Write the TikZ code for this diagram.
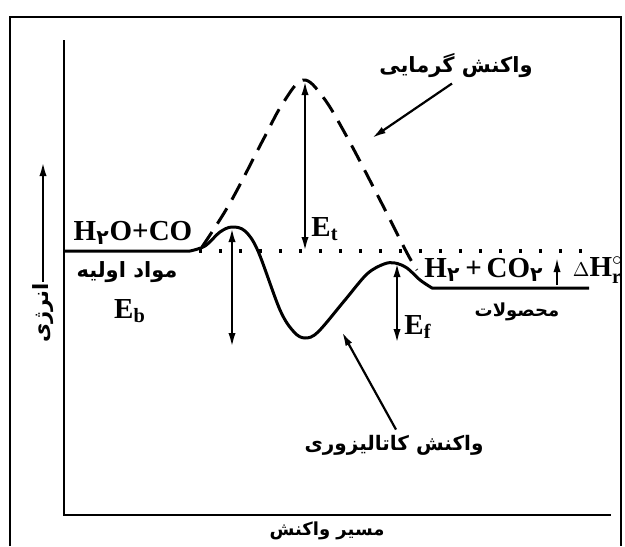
\documentclass[tikz,border=0pt]{standalone}
\usepackage{fontspec}
\usepackage{tikz}
\usetikzlibrary{arrows.meta}
\setmainfont{Liberation Serif}
\newfontfamily\fa[Script=Arabic]{DejaVu Sans}
\TeXXeTstate=1
\newcommand{\fat}[1]{{\fa\bfseries\beginR #1\endR}}
\newcommand{\two}{\textsubscript{\fa ۲}}

\begin{document}
\begin{tikzpicture}[x=0.5pt, y=-0.5pt, >={Latex[length=7pt,width=3.6pt]},
  line width=1.4pt,
  lbl/.style={inner sep=0pt, font=\fontsize{14.5}{16}\selectfont\bfseries},
  falbl/.style={inner sep=0pt, font=\fontsize{10.5}{12}\selectfont},
  curve/.style={line width=1.5pt, line join=round},
  marker/.style={<->, line width=1.1pt}]
  \useasboundingbox (0,0) rectangle (625,546);

  % frame and axes
  \draw (10,546) -- (10,17) -- (621,17) -- (621,546);
  \draw (64,40) -- (64,515) -- (611,515);

  % axis labels
  \node[falbl, rotate=90] (ener) at (43,313) {\fat{انرژی}};
  \coordinate (enerTop) at (43,162);
  \draw[->, line width=1.1pt] (ener.east) -- (enerTop);
  \node[falbl, font=\fontsize{9}{11}\selectfont] (path) at (327,531) {\fat{مسیر واکنش}};

  % reference level
  \draw[line width=1.6pt, dash pattern=on 1.6pt off 8.4pt] (199,251) -- (596,251);

  % uncatalysed path
  \draw[curve, dash pattern=on 9pt off 5pt]
    plot[smooth, tension=0.6] coordinates {(202,247) (230,203) (263,140) (283,103)
      (303,80) (323,97) (347,137) (380,200) (407,253) (417,270)};

  % catalysed path
  \draw[curve] (64,251) -- (190,251)
    plot[smooth, tension=0.55] coordinates {(190,251) (205,246) (220,232) (232,227)
      (245,231) (258,251) (280,310) (294,332) (305,338) (318,332) (345,300)
      (367,274) (384,264) (395,263) (407,268) (420,280) (432,288)}
    -- (589,288);

  % energy markers
  \coordinate (tTop) at (305,81);   \coordinate (tBot) at (305,251);
  \coordinate (bTop) at (232,228);  \coordinate (bBot) at (232,347);
  \coordinate (fTop) at (397,263);  \coordinate (fBot) at (397,343);
  \coordinate (hBot) at (557,285);  \coordinate (hTop) at (557,258);
  \draw[marker] (tTop) -- (tBot);
  \draw[marker] (bTop) -- (bBot);
  \draw[marker] (fTop) -- (fBot);
  \draw[->, line width=1pt] (hBot) -- (hTop);

  \node[lbl] (et) at (325,229) {E\textsubscript{t}};
  \node[lbl] (eb) at (130,311) {E\textsubscript{b}};
  \node[lbl] (ef) at (418,327) {E\textsubscript{f}};

  % species
  \node[lbl] (h2o) at (133,233) {H\two O+CO};
  \node[falbl] (react) at (127,272) {\fat{مواد اولیه}};
  \node[lbl] (h2co2) at (484,270) {H\two\,+\,CO\two};
  \node[lbl] (dh) at (598,270) {${\scriptstyle\Delta}\mathbf{H}^{\circ}_{\mathbf{r}}$};
  \node[falbl, font=\fontsize{9}{11}\selectfont] (prod) at (517,312) {\fat{محصولات}};

  % pointers
  \node[falbl] (thermo) at (456,66) {\fat{واکنش گرمایی}};
  \coordinate (thermoTip) at (372,138);
  \draw[->, line width=1.1pt] ([xshift=-2pt,yshift=-2pt]thermo.south) -- (thermoTip);
  \node[falbl, font=\fontsize{10}{12}\selectfont] (cata) at (394,445) {\fat{واکنش کاتالیزوری}};
  \coordinate (cataTip) at (342,332);
  \draw[->, line width=1.1pt] ([xshift=1pt,yshift=2pt]cata.north) -- (cataTip);
\end{tikzpicture}
\end{document}
